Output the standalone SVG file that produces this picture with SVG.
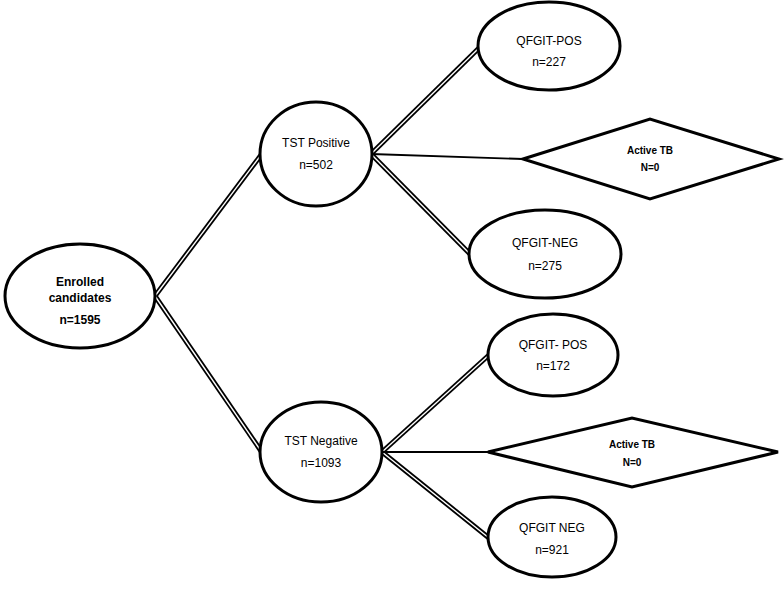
<svg xmlns="http://www.w3.org/2000/svg" width="784" height="589" viewBox="0 0 784 589">
<style>
.node{fill:#fff;stroke:#000;stroke-width:3}
.t{font-family:"Liberation Sans",Arial,sans-serif;font-size:12px;fill:#000;text-anchor:middle}
.b{font-weight:bold;font-size:12px}
.s{font-weight:bold;font-size:10px}
.dbl-o{stroke:#000;stroke-width:5;fill:none}
.dbl-i{stroke:#fff;stroke-width:1.4;fill:none}
.single{stroke:#000;stroke-width:1.8;fill:none}
</style>
<rect width="784" height="589" fill="#fff"/>
<g id="connectors">
<g class="dbl-o">
<line x1="155" y1="296" x2="261" y2="155"/>
<line x1="155" y1="296" x2="261" y2="451"/>
<line x1="371" y1="154" x2="479" y2="48"/>
<line x1="371" y1="154" x2="471" y2="255"/>
<line x1="382" y1="452" x2="489" y2="355"/>
<line x1="382" y1="452" x2="489" y2="538"/>
</g>
<g class="dbl-i">
<line x1="155" y1="296" x2="261" y2="155"/>
<line x1="155" y1="296" x2="261" y2="451"/>
<line x1="371" y1="154" x2="479" y2="48"/>
<line x1="371" y1="154" x2="471" y2="255"/>
<line x1="382" y1="452" x2="489" y2="355"/>
<line x1="382" y1="452" x2="489" y2="538"/>
</g>
<line class="single" x1="371" y1="154" x2="523" y2="159"/>
<line class="single" x1="382" y1="452" x2="488" y2="452"/>
</g>
<g id="enrolled">
<ellipse class="node" cx="80" cy="296" rx="75" ry="52"/>
<text class="t b" x="80" y="286">Enrolled</text>
<text class="t b" x="80" y="302">candidates</text>
<text class="t b" x="80" y="324">n=1595</text>
</g>
<g id="tst-positive">
<ellipse class="node" cx="316" cy="154" rx="56" ry="52"/>
<text class="t" x="316" y="147">TST Positive</text>
<text class="t" x="316" y="169">n=502</text>
</g>
<g id="tst-negative">
<ellipse class="node" cx="321" cy="452" rx="61" ry="50"/>
<text class="t" x="321" y="445">TST Negative</text>
<text class="t" x="321" y="467">n=1093</text>
</g>
<g id="qfgit-pos-1">
<ellipse class="node" cx="549" cy="46" rx="71" ry="44"/>
<text class="t" x="549" y="45">QFGIT-POS</text>
<text class="t" x="549" y="66">n=227</text>
</g>
<g id="active-tb-1">
<polygon class="node" points="523,159 650,119 779,159 650,199"/>
<text class="t s" x="650" y="154">Active TB</text>
<text class="t s" x="650" y="171">N=0</text>
</g>
<g id="qfgit-neg-1">
<ellipse class="node" cx="545" cy="254" rx="76" ry="44"/>
<text class="t" x="545" y="247">QFGIT-NEG</text>
<text class="t" x="545" y="270">n=275</text>
</g>
<g id="qfgit-pos-2">
<ellipse class="node" cx="553" cy="355" rx="65" ry="41"/>
<text class="t" x="553" y="349">QFGIT- POS</text>
<text class="t" x="553" y="370">n=172</text>
</g>
<g id="active-tb-2">
<polygon class="node" points="488,452 632,418 778,452 632,487"/>
<text class="t s" x="632" y="448">Active TB</text>
<text class="t s" x="632" y="466">N=0</text>
</g>
<g id="qfgit-neg-2">
<ellipse class="node" cx="552" cy="537" rx="64" ry="40"/>
<text class="t" x="552" y="532">QFGIT NEG</text>
<text class="t" x="552" y="554">n=921</text>
</g>
</svg>
